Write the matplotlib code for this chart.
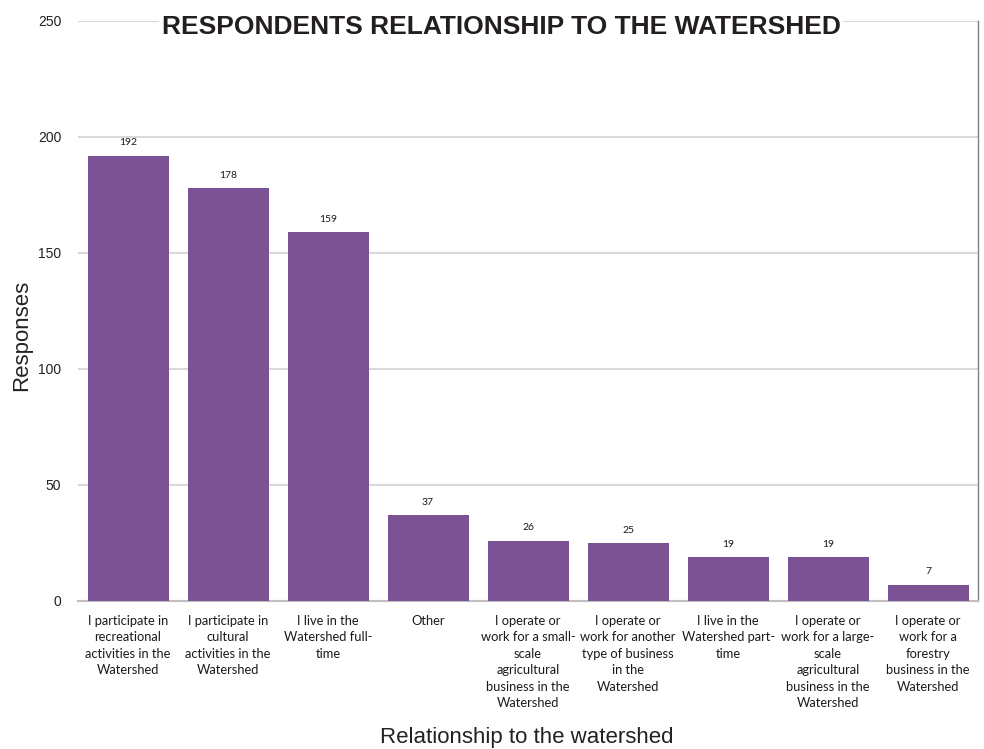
import matplotlib.pyplot as plt

# ----------------------------------------------------------------------------------------------------------------------
# data

categories = [
    'I participate in\nrecreational\nactivities in the\nWatershed',
    'I participate in\ncultural\nactivities in the\nWatershed',
    'I live in the\nWatershed full-\ntime',
    'Other',
    'I operate or\nwork for a small-\nscale\nagricultural\nbusiness in the\nWatershed',
    'I operate or\nwork for another\ntype of business\nin the\nWatershed',
    'I live in the\nWatershed part-\ntime',
    'I operate or\nwork for a large-\nscale\nagricultural\nbusiness in the\nWatershed',
    'I operate or\nwork for a\nforestry\nbusiness in the\nWatershed',
]
responses = [192, 178, 159, 37, 26, 25, 19, 19, 7]
y_ticks = [0, 50, 100, 150, 200, 250]

# ----------------------------------------------------------------------------------------------------------------------
# figure

fig = plt.figure(figsize=(9.84, 7.49), dpi=100)
ax = fig.add_axes([78 / 984, (749 - 601) / 749, 900 / 984, 580 / 749])

x = range(len(categories))
bars = ax.bar(x, responses, width=0.81, color='#7B5394', zorder=3)
ax.bar_label(bars, labels=[str(v) for v in responses], padding=6, fontsize=7.5,
             family='Lato', color='#1a1a1a')

ax.set_xlim(-0.5, len(categories) - 0.5)
ax.set_ylim(0, 250)
ax.set_yticks(y_ticks)
ax.set_yticklabels(y_ticks, fontsize=10, family='Liberation Sans', color='#222222')
ax.set_xticks(list(x))
ax.set_xticklabels(categories, fontsize=9.3, family='Lato', color='#1a1a1a', linespacing=1.45,
                   va='top', ha='center')
ax.tick_params(axis='both', length=0)
ax.tick_params(axis='x', pad=10)
ax.tick_params(axis='y', pad=12)

ax.grid(axis='y', color='#D9D9D9', linewidth=1.5, zorder=0)
for side in ['top', 'left']:
    ax.spines[side].set_visible(False)
ax.spines['bottom'].set_color('#BFBFBF')
ax.spines['bottom'].set_linewidth(1.5)
ax.spines['right'].set_color('#808080')
ax.spines['right'].set_linewidth(1.0)

fig.text(22 / 984, 1 - 335 / 749, 'Responses', fontsize=16, family='Liberation Sans',
         color='#222222', rotation=90, ha='center', va='center')
fig.text(527 / 984, 1 - 738 / 749, 'Relationship to the watershed', fontsize=16,
         family='Liberation Sans', color='#222222', ha='center', va='center')

fig.text(501 / 984, 1 - 27 / 749, 'RESPONDENTS RELATIONSHIP TO THE WATERSHED', fontsize=19,
         fontweight='bold', family='Liberation Sans', color='#231F20', ha='center', va='center',
         bbox=dict(facecolor='white', edgecolor='none', pad=2))

fig.savefig('out.png', dpi=100)
